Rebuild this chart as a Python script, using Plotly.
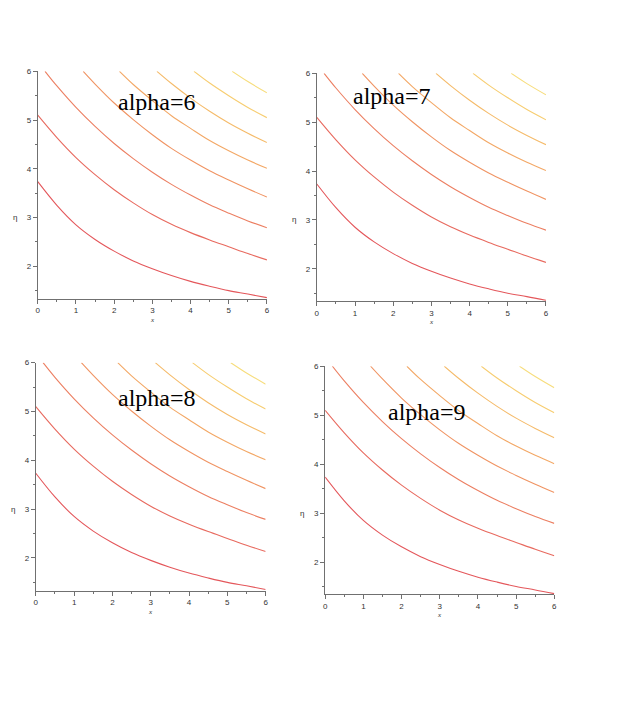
import plotly.graph_objects as go

# ---- data (same contour family in every panel) ----
alphas = [6, 7, 8, 9]

c1_x = [0, 0.5, 1, 1.5, 2, 2.5, 3, 3.5, 4, 4.5, 5, 5.5, 6]
c1_y = [3.735, 3.25, 2.85, 2.55, 2.31, 2.11, 1.95, 1.81, 1.69, 1.59, 1.50, 1.43, 1.355]

c2_x = [0, 0.5, 1, 1.5, 2, 2.5, 3, 3.5, 4, 4.5, 5, 5.5, 6]
c2_y = [5.10, 4.64, 4.23, 3.88, 3.57, 3.30, 3.06, 2.86, 2.69, 2.54, 2.40, 2.26, 2.13]

c3_x = [0.19, 0.5, 1, 1.5, 2, 2.5, 3, 3.5, 4, 4.5, 5, 5.5, 6]
c3_y = [6.0, 5.70, 5.26, 4.87, 4.52, 4.21, 3.93, 3.68, 3.46, 3.26, 3.09, 2.93, 2.79]

c4_x = [1.19, 1.5, 2, 2.5, 3, 3.5, 4, 4.5, 5, 5.5, 6]
c4_y = [6.0, 5.74, 5.35, 5.01, 4.70, 4.42, 4.18, 3.96, 3.77, 3.59, 3.42]

c5_x = [2.14, 2.5, 3, 3.5, 4, 4.5, 5, 5.5, 6]
c5_y = [6.0, 5.73, 5.40, 5.09, 4.83, 4.58, 4.37, 4.18, 4.01]

c6_x = [3.12, 3.5, 4, 4.5, 5, 5.5, 6]
c6_y = [6.0, 5.75, 5.45, 5.18, 4.94, 4.73, 4.54]

c7_x = [4.09, 4.5, 5, 5.5, 6]
c7_y = [6.0, 5.76, 5.50, 5.26, 5.05]

c8_x = [5.09, 5.5, 6]
c8_y = [6.0, 5.79, 5.56]

x_ticks = [0, 1, 2, 3, 4, 5, 6]
y_ticks = [2, 3, 4, 5, 6]

curves = [(c1_x, c1_y), (c2_x, c2_y), (c3_x, c3_y), (c4_x, c4_y),
          (c5_x, c5_y), (c6_x, c6_y), (c7_x, c7_y), (c8_x, c8_y)]
colors = ["#e4575b", "#e86a5f", "#ec7f62", "#f09463", "#f3a866",
          "#f5bb6a", "#f7cd70", "#f7dd7c"]

# ---- layout geometry (target pixels in the 642x715 window) ----
DX, DY = 8, 11          # page offset of the plot div
W, H = 626, 695
panels = [  # left, right, top, bottom (px), y-range bottom
    (36, 267, 70.7, 299.3, 1.335),
    (317.3, 548.3, 72.7, 301.7, 1.34),
    (34, 265.7, 363.7, 593, 1.33),
    (325.7, 556.7, 367.3, 596.7, 1.34),
]
labels_pos = [(156.5, 102), (393.3, 95.3), (155.8, 399.7), (428.7, 413)]


def px(v):
    return (v - DX) / W


def py(v):
    return 1 - (v - DY) / H


fig = go.Figure()
layout = dict(width=W, height=H, margin=dict(l=0, r=0, t=0, b=0),
              paper_bgcolor="white", plot_bgcolor="white", showlegend=False)
annotations = []

for i, (l, r, t, b, ymin) in enumerate(panels):
    n = "" if i == 0 else str(i + 1)
    xa, ya = "x" + n, "y" + n
    for (cx, cy), col in zip(curves, colors):
        fig.add_trace(go.Scatter(x=cx, y=cy, mode="lines", xaxis=xa, yaxis=ya,
                                 line=dict(color=col, width=1.1, shape="spline", smoothing=1.0),
                                 hoverinfo="skip"))
    axis_common = dict(showgrid=False, zeroline=False, showline=True, linecolor="#707070",
                       linewidth=1, ticks="outside", ticklen=4, tickcolor="#707070",
                       tickfont=dict(family="Liberation Sans", size=8, color="#333333"),
                       minor=dict(ticks="outside", ticklen=2, tickcolor="#707070", dtick=0.5,
                                  showgrid=False))
    layout["xaxis" + n] = dict(domain=[px(l), px(r)], range=[0, 6], anchor=ya,
                               tickvals=x_ticks, **axis_common)
    layout["yaxis" + n] = dict(domain=[py(b), py(t)], range=[ymin, 6.0], anchor=xa,
                               tickvals=y_ticks, **axis_common)
    # axis titles
    annotations.append(dict(text="<i>x</i>", xref=xa + " domain", yref=ya + " domain",
                            x=0.5, y=-(21 / (b - t)), showarrow=False,
                            font=dict(family="Liberation Serif", size=7, color="#333333"),
                            xanchor="center", yanchor="middle"))
    annotations.append(dict(text="η", xref=xa + " domain", yref=ya,
                            x=-23 / (r - l), y=3.0, showarrow=False,
                            font=dict(family="Liberation Sans", size=8, color="#333333"),
                            xanchor="center", yanchor="middle"))
    lx, ly = labels_pos[i]
    annotations.append(dict(text=f"alpha={alphas[i]}", xref="paper", yref="paper",
                            x=px(lx), y=py(ly), showarrow=False,
                            font=dict(family="Liberation Serif", size=24, color="black"),
                            xanchor="center", yanchor="middle"))

layout["annotations"] = annotations
fig.update_layout(**layout)
fig.write_html("out.html")
